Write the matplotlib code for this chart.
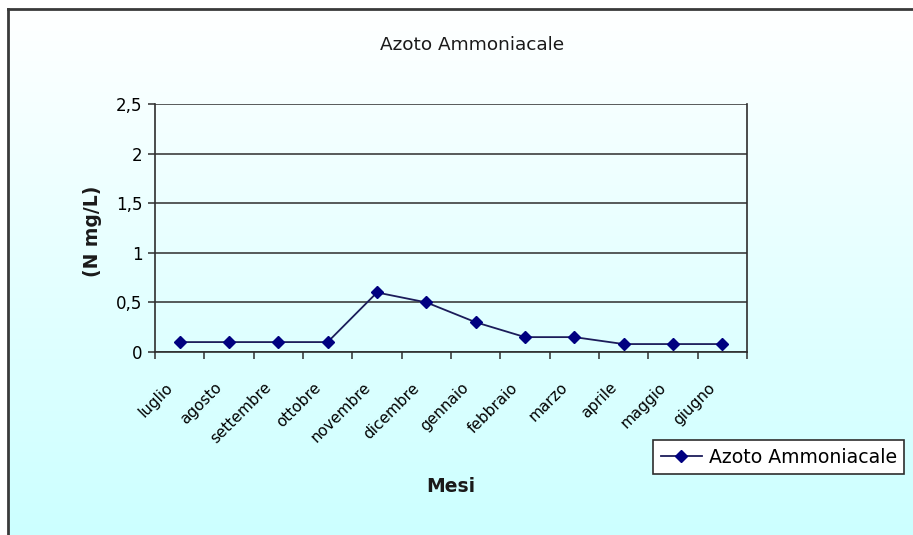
import numpy as np
import matplotlib
matplotlib.use("Agg")
import matplotlib.pyplot as plt
import matplotlib.transforms as mtransforms
from matplotlib.lines import Line2D

mesi = ["luglio", "agosto", "settembre", "ottobre", "novembre", "dicembre",
        "gennaio", "febbraio", "marzo", "aprile", "maggio", "giugno"]
azoto = [0.1, 0.1, 0.1, 0.1, 0.6, 0.5, 0.3, 0.15, 0.15, 0.08, 0.08, 0.08]
y_ticks = [0, 0.5, 1, 1.5, 2, 2.5]
y_labels = ["0", "0,5", "1", "1,5", "2", "2,5"]

plt.rcParams["font.family"] = ["DejaVu Sans"]

W, H = 913, 535
fig = plt.figure(figsize=(W / 100, H / 100), dpi=100)
fig.patch.set_facecolor("white")

# gradient background inside the chart frame
bg = fig.add_axes([8 / W, 0, 1 - 8 / W, 1 - 9 / H])
grad = np.linspace(0, 1, 256)[:, None]
top = np.array([1.0, 1.0, 1.0])
bottom = np.array([0.80, 1.0, 1.0])
img = top[None, None, :] * (1 - grad[:, :, None]) + bottom[None, None, :] * grad[:, :, None]
bg.imshow(img, aspect="auto", extent=[0, 1, 0, 1])
bg.set_axis_off()

# chart frame (left and top edges visible)
fig.add_artist(Line2D([8 / W, 8 / W], [0, 1 - 9 / H], color="#3a3a3a", lw=2,
                      transform=fig.transFigure))
fig.add_artist(Line2D([8 / W, 1], [1 - 9 / H, 1 - 9 / H], color="#3a3a3a", lw=2,
                      transform=fig.transFigure))

ax = fig.add_axes([155 / W, 1 - 352 / H, (747 - 155) / W, (352 - 104) / H])
ax.patch.set_alpha(0)

x = np.arange(len(mesi))
ax.plot(x, azoto, color="#1c1c5a", lw=1.3, marker="D", markersize=6.2,
        markerfacecolor="#000080", markeredgecolor="#000080",
        label="Azoto Ammoniacale", zorder=3)

ax.set_xlim(-0.5, len(mesi) - 0.5)
ax.set_ylim(0, 2.5)
ax.set_yticks(y_ticks, labels=y_labels, fontsize=12)
ax.yaxis.grid(True, color="#2e2e2e", lw=1.1)
ax.set_axisbelow(True)

ax.set_xticks(x, labels=mesi, rotation=45, ha="right", va="center",
              rotation_mode="anchor", fontsize=11)
ax.set_xticks(np.arange(-0.5, len(mesi)), minor=True)
ax.tick_params(axis="x", which="major", length=0, pad=24)
ax.tick_params(axis="x", which="minor", length=5, width=1.1, color="#2e2e2e")
ax.tick_params(axis="y", length=5, width=1.1, color="#2e2e2e", pad=4)
shift = mtransforms.ScaledTranslation(-0.09, 0, fig.dpi_scale_trans)
for lab in ax.get_xticklabels():
    lab.set_transform(lab.get_transform() + shift)

for side in ["left", "bottom", "right"]:
    ax.spines[side].set_color("#2e2e2e")
    ax.spines[side].set_linewidth(1.2)
ax.spines["top"].set_visible(False)

fig.text(472 / W, 1 - 45 / H, "Azoto Ammoniacale", ha="center", va="center",
         fontsize=13.3, color="#1a1a1a")
fig.text(92 / W, 1 - 231 / H, "(N mg/L)", ha="center", va="center",
         rotation=90, fontsize=13.5, fontweight="bold", color="#1a1a1a")
fig.text(451 / W, 1 - 487 / H, "Mesi", ha="center", va="center",
         fontsize=13.5, fontweight="bold", color="#1a1a1a")

leg = fig.legend(loc="upper left", bbox_to_anchor=(653 / W, 1 - 440 / H),
                 frameon=True, fancybox=False, framealpha=1, edgecolor="#2e2e2e",
                 fontsize=13.6, borderpad=0.4, handlelength=2.2, handletextpad=0.35,
                 borderaxespad=0)
leg.get_frame().set_linewidth(1.2)

fig.savefig("out.png", dpi=100)
